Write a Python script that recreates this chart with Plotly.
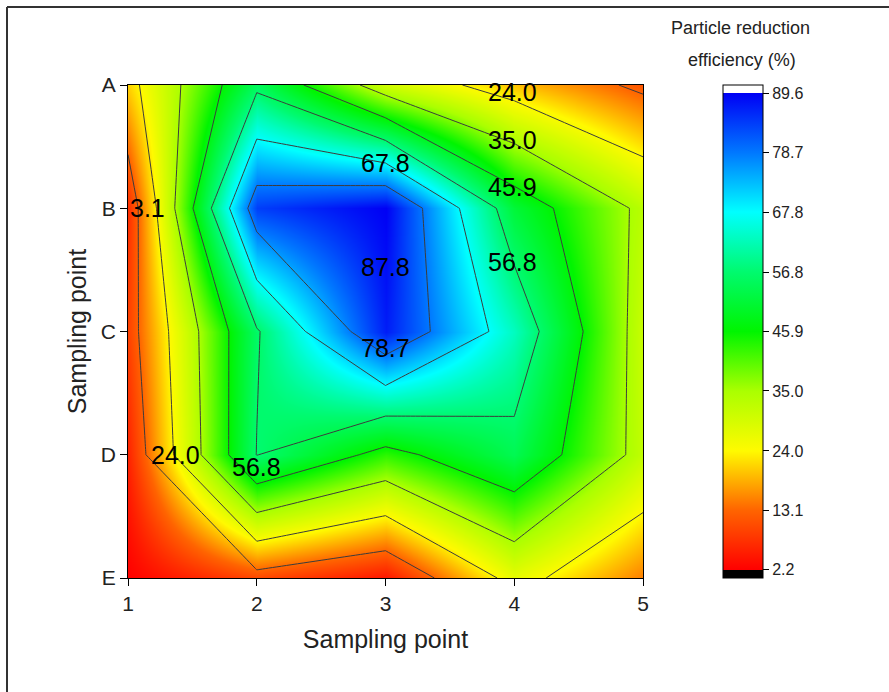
import plotly.graph_objects as go

# ---- data -------------------------------------------------------------
x_points = [1, 2, 3, 4, 5]
row_labels = ["A", "B", "C", "D", "E"]

row_A = [21.0, 55.0, 30.0, 20.0, 11.5]
row_B = [7.0, 84.0, 89.6, 51.5, 33.0]
row_C = [9.3, 56.0, 87.0, 63.0, 31.0]
row_D = [6.0, 57.0, 43.0, 54.0, 32.0]
row_E = [2.2, 10.0, 4.6, 27.0, 15.0]

levels = [2.2, 13.1, 24.0, 35.0, 45.9, 56.8, 67.8, 78.7, 89.6]
level_text = ["2.2", "13.1", "24.0", "35.0", "45.9", "56.8", "67.8", "78.7", "89.6"]
level_colors = ["rgb(255,0,0)", "rgb(255,100,0)", "rgb(255,250,0)", "rgb(170,255,0)",
                "rgb(0,245,0)", "rgb(0,250,110)", "rgb(0,255,255)", "rgb(0,120,255)",
                "rgb(0,0,245)"]

label_text = ["24.0", "35.0", "45.9", "56.8", "67.8", "87.8", "78.7", "3.1", "24.0", "56.8"]
label_x = [3.99, 3.99, 3.99, 3.99, 3.0, 3.0, 3.0, 1.15, 1.37, 2.0]
label_y = [0.06, 0.45, 0.83, 1.44, 0.63, 1.48, 2.13, 1.0, 3.0, 3.1]

# ---- derived -----------------------------------------------------------
z = [row_A, row_B, row_C, row_D, row_E]
y_idx = list(range(len(row_labels)))

cap = 1.5
zmin = levels[0] - cap
zmax = levels[-1] + cap
span = zmax - zmin

def frac(v):
    return (v - zmin) / span

colorscale = [[0.0, "black"], [frac(levels[0]) - 1e-6, "black"]]
for v, c in zip(levels, level_colors):
    colorscale.append([frac(v), c])
colorscale.append([frac(levels[-1]) + 1e-6, "white"])
colorscale.append([1.0, "white"])

FONT = "Liberation Sans, Arial, sans-serif"

# plot area in pixels
W, H = 889, 692
L, R, T, B = 128, 246, 85, 114
pw, ph = W - L - R, H - T - B

def px2x(px):
    return (px - L) / pw

def py2y(py):
    return (H - B - py) / ph

fig = go.Figure()
# smooth colour fill
fig.add_trace(go.Heatmap(
    z=z, x=x_points, y=y_idx, zsmooth="best",
    colorscale=colorscale, zmin=zmin, zmax=zmax,
    colorbar=dict(
        thickness=40, thicknessmode="pixels",
        len=ph, lenmode="pixels",
        x=px2x(723), xanchor="left", xpad=0,
        y=1, yanchor="top", ypad=0,
        outlinecolor="black", outlinewidth=1,
        tickmode="array", tickvals=levels, ticktext=level_text,
        ticks="outside", ticklen=6, tickcolor="black",
        tickfont=dict(family=FONT, size=16, color="#222"),
    ),
))
# contour lines
fig.add_trace(go.Contour(
    z=z, x=x_points, y=y_idx, showscale=False,
    contours=dict(coloring="none", start=levels[1], end=levels[-2],
                  size=(levels[-1] - levels[0]) / 8, showlabels=False),
    line=dict(color="#3c3c3c", width=1, smoothing=0),
    hoverinfo="skip",
))

annotations = []
for t, xx, yy in zip(label_text, label_x, label_y):
    annotations.append(dict(x=xx, y=yy, xref="x", yref="y", text=t, showarrow=False,
                            font=dict(family=FONT, size=25, color="black")))
annotations.append(dict(x=px2x(740), y=py2y(28), xref="paper", yref="paper",
                        xanchor="center", yanchor="middle",
                        text="Particle reduction", showarrow=False,
                        font=dict(family=FONT, size=18, color="#222")))
annotations.append(dict(x=px2x(742), y=py2y(60), xref="paper", yref="paper",
                        xanchor="center", yanchor="middle",
                        text="efficiency (%)", showarrow=False,
                        font=dict(family=FONT, size=18, color="#222")))

shapes = [
    dict(type="line", xref="paper", yref="paper", x0=px2x(7), x1=px2x(889),
         y0=py2y(7), y1=py2y(7), line=dict(color="#333", width=2)),
    dict(type="line", xref="paper", yref="paper", x0=px2x(7), x1=px2x(7),
         y0=py2y(7), y1=py2y(692), line=dict(color="#333", width=2)),
]

fig.update_layout(
    width=W, height=H,
    margin=dict(l=L, r=R, t=T, b=B),
    paper_bgcolor="white", plot_bgcolor="white",
    font=dict(family=FONT, color="black"),
    annotations=annotations, shapes=shapes,
    xaxis=dict(range=[1, 5], tickvals=x_points, ticks="outside", ticklen=7,
               tickcolor="black", showline=True, linecolor="black", linewidth=1,
               mirror=True, showgrid=False, zeroline=False,
               tickfont=dict(family=FONT, size=21, color="#222"),
               title=dict(text="Sampling point", standoff=16,
                          font=dict(family=FONT, size=25, color="#222"))),
    yaxis=dict(range=[4, 0], tickvals=y_idx, ticktext=row_labels, ticks="outside",
               ticklen=7, tickcolor="black", showline=True, linecolor="black",
               linewidth=1, mirror=True, showgrid=False, zeroline=False,
               tickfont=dict(family=FONT, size=21, color="#222"),
               title=dict(text="Sampling point", standoff=6,
                          font=dict(family=FONT, size=25, color="#222"))),
)

fig.write_html("out.html", config={"displayModeBar": False},
               post_script="document.body.style.margin='0px';")
